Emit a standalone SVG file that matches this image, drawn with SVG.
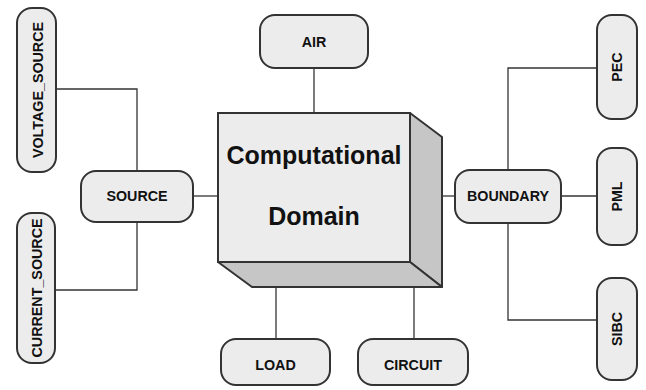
<svg xmlns="http://www.w3.org/2000/svg" width="646" height="390" viewBox="0 0 646 390">
  <style>
    .node { fill: #ececec; stroke: #333; stroke-width: 2; }
    .side { fill: #c6c6c6; stroke: #333; stroke-width: 2; stroke-linejoin: round; }
    .wire { fill: none; stroke: #333; stroke-width: 1.3; }
    .lbl { font-family: "Liberation Sans", Arial, sans-serif; font-weight: bold; font-size: 14.3px; fill: #111; text-anchor: middle; }
    .big { font-family: "Liberation Sans", Arial, sans-serif; font-weight: bold; font-size: 25px; fill: #111; text-anchor: middle; }
  </style>
  <rect width="646" height="390" fill="#fff"/>

  <g id="connectors">
    <path class="wire" d="M314 68 V113"/>
    <path class="wire" d="M276 287 V339"/>
    <path class="wire" d="M414 287 V339"/>
    <path class="wire" d="M193 196 H218"/>
    <path class="wire" d="M56 89 H137 V171"/>
    <path class="wire" d="M55 290 H137 V222"/>
    <path class="wire" d="M442 196 H455"/>
    <path class="wire" d="M561 196 H597"/>
    <path class="wire" d="M597 68 H508 V170"/>
    <path class="wire" d="M597 320 H508 V223"/>
  </g>

  <g id="domain">
    <polygon class="side" points="410,113 442,137 442,287 410,262"/>
    <polygon class="side" points="218,262 410,262 442,287 252,287"/>
    <rect class="node" x="218" y="113" width="192" height="149"/>
    <text class="big" x="314" y="164">Computational</text>
    <text class="big" x="314" y="225">Domain</text>
  </g>

  <g id="air">
    <rect class="node" x="260" y="15" width="108" height="53" rx="15"/>
    <text class="lbl" x="314" y="47">AIR</text>
  </g>
  <g id="load">
    <rect class="node" x="221" y="339" width="109" height="46" rx="15"/>
    <text class="lbl" x="275.5" y="370">LOAD</text>
  </g>
  <g id="circuit">
    <rect class="node" x="358" y="339" width="110" height="46" rx="15"/>
    <text class="lbl" x="413" y="370">CIRCUIT</text>
  </g>
  <g id="source">
    <rect class="node" x="81" y="171" width="112" height="51" rx="15"/>
    <text class="lbl" x="137" y="201">SOURCE</text>
  </g>
  <g id="voltage_source">
    <rect class="node" x="17" y="8" width="39" height="164" rx="15"/>
    <text class="lbl" transform="translate(42.5 90) rotate(-90)">VOLTAGE_SOURCE</text>
  </g>
  <g id="current_source">
    <rect class="node" x="17" y="213" width="38" height="150" rx="15"/>
    <text class="lbl" transform="translate(42 288) rotate(-90)">CURRENT_SOURCE</text>
  </g>
  <g id="boundary">
    <rect class="node" x="455" y="170" width="106" height="53" rx="15"/>
    <text class="lbl" x="508" y="201">BOUNDARY</text>
  </g>
  <g id="pec">
    <rect class="node" x="597" y="15" width="40" height="104" rx="15"/>
    <text class="lbl" transform="translate(622 67) rotate(-90)">PEC</text>
  </g>
  <g id="pml">
    <rect class="node" x="597" y="148" width="40" height="97" rx="15"/>
    <text class="lbl" transform="translate(622 196.5) rotate(-90)">PML</text>
  </g>
  <g id="sibc">
    <rect class="node" x="597" y="278" width="40" height="102" rx="15"/>
    <text class="lbl" transform="translate(622 329) rotate(-90)">SIBC</text>
  </g>
</svg>
